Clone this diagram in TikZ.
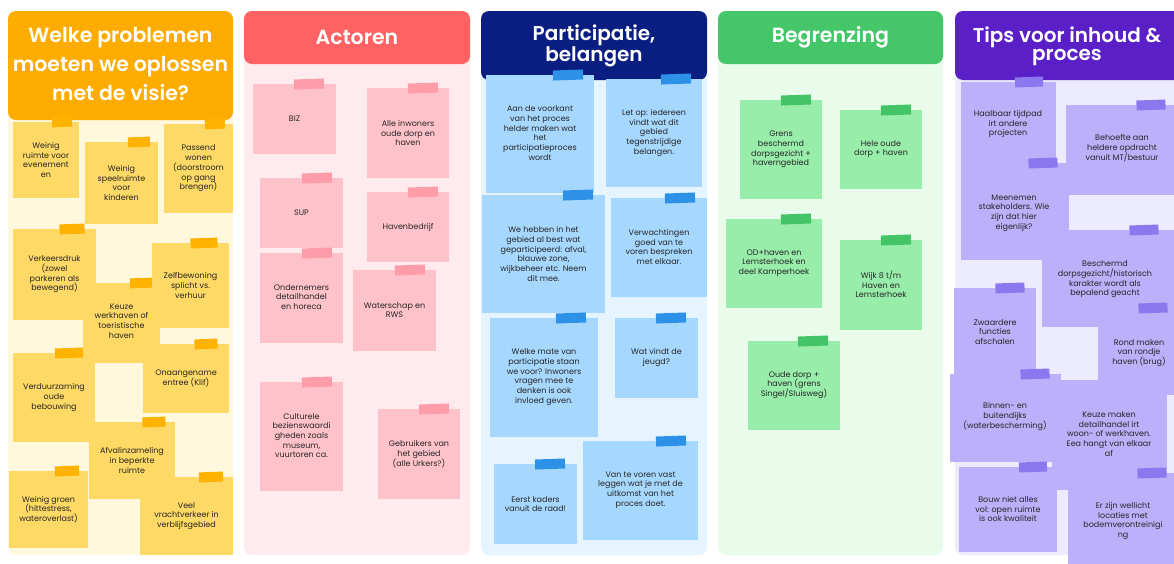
\documentclass[tikz,border=0pt]{standalone}
\usepackage{fontspec}
\setmainfont{Poppins}
\newfontfamily\headfont{Poppins SemiBold}
\usetikzlibrary{calc}
\definecolor{yelH}{HTML}{FFAC00}
\definecolor{yelB}{HTML}{FFF8DC}
\definecolor{yelN}{HTML}{FFD966}
\definecolor{yelT}{HTML}{FFB300}
\definecolor{redH}{HTML}{FF6262}
\definecolor{redB}{HTML}{FFEBEE}
\definecolor{redN}{HTML}{FFC2CB}
\definecolor{redT}{HTML}{FF9CAA}
\definecolor{bluH}{HTML}{0A1D80}
\definecolor{bluB}{HTML}{E6F4FF}
\definecolor{bluN}{HTML}{A6D8FF}
\definecolor{bluT}{HTML}{2E91E8}
\definecolor{grnH}{HTML}{45C669}
\definecolor{grnB}{HTML}{E9FCEB}
\definecolor{grnN}{HTML}{98EDAA}
\definecolor{grnT}{HTML}{43C466}
\definecolor{purH}{HTML}{5A1FC6}
\definecolor{purB}{HTML}{EDEBFF}
\definecolor{purN}{HTML}{BCB0FA}
\definecolor{purT}{HTML}{8C78EE}
\definecolor{notetext}{HTML}{262626}
\tikzset{
  panel/.style={rounded corners=8pt},
  notetxt/.style={align=center, font=\fontsize{8}{9.7}\selectfont, text=notetext, inner sep=0pt},
  headtxt/.style={align=center, text=white, font=\headfont\fontsize{20.5}{29}\selectfont, inner sep=0pt},
  headtight/.style={headtxt, font=\headfont\fontsize{20}{18}\selectfont},
}
% #1 x1, #2 y1, #3 x2, #4 y2, #5 tape centre x, #6 tape width
\newcommand{\stick}[6]{%
  \path[notefill] (#1,#2) rectangle (#3,#4);
  \path[tapefill, rotate around={2:(#5,#2)}] (#5-#6/2,#2-5) rectangle (#5+#6/2,#2+5);
}
\newcommand{\sticknt}[4]{%
  \path[notefill] (#1,#2) rectangle (#3,#4);
}
\begin{document}
\begin{tikzpicture}[x=1pt,y=-1pt]
\useasboundingbox (0,0) rectangle (1174,563);
\clip (0,0) rectangle (1174,563);
\fill[white] (0,0) rectangle (1174,563);

% ---------- panels ----------
\fill[yelB, panel] (8,11) rectangle (233,555);
\fill[yelH, panel] (8,11) rectangle (233,120);
\fill[redB, panel] (244,11) rectangle (470,555);
\fill[redH, panel] (244,11) rectangle (470,64);
\fill[bluB, panel] (481,11) rectangle (707,555);
\fill[bluH, panel] (481,11) rectangle (707,80);
\fill[grnB, panel] (718,11) rectangle (943,555);
\fill[grnH, panel] (718,11) rectangle (943,64);
\fill[purB, panel] (955,11) rectangle (1190,555);
\fill[purH, panel] (955,11) rectangle (1190,80);

\node[headtxt] (h1) at (120.5,64) {Welke problemen\\moeten we oplossen\\met de visie?};
\node[headtxt] (h2) at (357,37) {Actoren};
\node[headtight] (h3) at (594,46) {Participatie,\\belangen};
\node[headtxt] (h4) at (830.5,37) {Begrenzing};
\node[headtight] (h5) at (1067,46) {Tips voor inhoud \&\\proces};

% ---------- column 1 ----------
\begin{scope}[notefill/.style={fill=yelN}, tapefill/.style={fill=yelT}]
\stick{13}{122}{79}{198}{62}{20}
\stick{85}{142}{158}{224}{139}{22}
\stick{164}{124}{233}{213}{215}{20}
\stick{83}{283}{160}{363}{141}{22}
\stick{13}{229}{96}{320}{72}{25}
\stick{152}{243}{229}{328}{204}{27}
\stick{143}{344}{229}{413}{206}{23}
\stick{13}{353}{95}{442}{69}{28}
\stick{89}{422}{175}{499}{154}{23}
\stick{9}{471}{88}{548}{67}{24}
\stick{140}{477}{233}{555}{211}{24}
\end{scope}
\node[notetxt] (a1) at (46,160) {Weinig\\ruimte voor\\evenement\\en};
\node[notetxt] (a2) at (121.5,183) {Weinig\\speelruimte\\voor\\kinderen};
\node[notetxt] (a3) at (198.5,168.5) {Passend\\wonen\\(doorstroom\\op gang\\brengen)};
\node[notetxt] (a4) at (54.5,274.5) {Verkeersdruk\\(zowel\\parkeren als\\bewegend)};
\node[notetxt] (a5) at (190.5,285.5) {Zelfbewoning\\splicht vs.\\verhuur};
\node[notetxt] (a6) at (121.5,321) {Keuze\\werkhaven of\\toeristische\\haven};
\node[notetxt] (a7) at (186,378.5) {Onaangename\\entree (Klif)};
\node[notetxt] (a8) at (54,397.5) {Verduurzaming\\oude\\bebouwing};
\node[notetxt] (a9) at (132,460.5) {Afvalinzameling\\in beperkte\\ruimte};
\node[notetxt] (a10) at (48.5,509.5) {Weinig groen\\(hittestress,\\wateroverlast)};
\node[notetxt] (a11) at (186.5,516) {Veel\\vrachtverkeer in\\verblijfsgebied};

% ---------- column 2 ----------
\begin{scope}[notefill/.style={fill=redN}, tapefill/.style={fill=redT}]
\stick{253}{84}{336}{154}{309}{30}
\stick{367}{88}{449}{178}{423}{30}
\stick{260}{178}{343}{248}{317}{30}
\stick{367}{192}{449}{262}{423}{30}
\stick{260}{253}{343}{343}{317}{30}
\stick{353}{270}{436}{351}{410}{30}
\stick{260}{382}{343}{491}{317}{30}
\stick{378}{409}{460}{499}{434}{30}
\end{scope}
\node[notetxt] (b1) at (294.5,119) {BIZ};
\node[notetxt] (b2) at (408,133) {Alle inwoners\\oude dorp en\\haven};
\node[notetxt] (b3) at (301.5,213) {SUP};
\node[notetxt] (b4) at (408,227) {Havenbedrijf};
\node[notetxt] (b5) at (301.5,297) {Ondernemers\\detailhandel\\en horeca};
\node[notetxt] (b6) at (394.5,310) {Waterschap en\\RWS};
\node[notetxt] (b7) at (301.5,435.5) {Culturele\\bezienswaardi\\gheden zoals\\museum,\\vuurtoren ca.};
\node[notetxt] (b8) at (419,454) {Gebruikers van\\het gebied\\(alle Urkers?)};

% ---------- column 3 ----------
\begin{scope}[notefill/.style={fill=bluN}, tapefill/.style={fill=bluT}]
\stick{486}{75}{594}{193}{568}{30}
\stick{606}{79}{702}{187}{676}{30}
\stick{482}{195}{605}{313}{578}{30}
\stick{611}{198}{707}{297}{680}{30}
\stick{490}{318}{598}{437}{571}{30}
\stick{615}{318}{698}{398}{671}{30}
\stick{494}{464}{577}{544}{550}{30}
\stick{583}{441}{698}{540}{671}{30}
\end{scope}
\node[notetxt] (c1) at (540,133) {Aan de voorkant\\van het proces\\helder maken wat\\het\\participatieproces\\wordt};
\node[notetxt] (c2) at (654,133) {Let op: iedereen\\vindt wat dit\\gebied\\tegenstrijdige\\belangen.};
\node[notetxt] (c3) at (543.5,254) {We hebben in het\\gebied al best wat\\geparticipeerd: afval,\\blauwe zone,\\wijkbeheer etc. Neem\\dit mee.};
\node[notetxt] (c4) at (659,247) {Verwachtingen\\goed van te\\voren bespreken\\met elkaar.};
\node[notetxt] (c5) at (544,377) {Welke mate van\\participatie staan\\we voor? Inwoners\\vragen mee te\\denken is ook\\invloed geven.};
\node[notetxt] (c6) at (656.5,357.5) {Wat vindt de\\jeugd?};
\node[notetxt] (c7) at (535.5,504) {Eerst kaders\\vanuit de raad!};
\node[notetxt] (c8) at (640.5,490) {Van te voren vast\\leggen wat je met de\\uitkomst van het\\proces doet.};

% ---------- column 4 ----------
\begin{scope}[notefill/.style={fill=grnN}, tapefill/.style={fill=grnT}]
\stick{740}{100}{822}{199}{796}{30}
\stick{840}{110}{922}{189}{896}{30}
\stick{726}{219}{822}{308}{796}{30}
\stick{840}{240}{922}{330}{896}{30}
\stick{748}{341}{840}{430}{813}{30}
\end{scope}
\node[notetxt] (d1) at (781,149.5) {Grens\\beschermd\\dorpsgezicht +\\haverngebied};
\node[notetxt] (d2) at (881,149) {Hele oude\\dorp + haven};
\node[notetxt] (d3) at (774,263) {OD+haven en\\Lemsterhoek en\\deel Kamperhoek};
\node[notetxt] (d4) at (881,284.5) {Wijk 8 t/m\\Haven en\\Lemsterhoek};
\node[notetxt] (d5) at (794,385) {Oude dorp +\\haven (grens\\Singel/Sluisweg)};

% ---------- column 5 ----------
\begin{scope}[notefill/.style={fill=purN}, tapefill/.style={fill=purT}]
\stick{961}{82}{1056}{175}{1029}{28}
\stick{1066}{105}{1180}{195}{1151}{29}
\stick{961}{163}{1069}{260}{1043}{29}
\stick{1042}{230}{1180}{327}{1144}{29}
\stick{954}{288}{1036}{380}{1010}{29}
\sticknt{1052}{380}{1167}{490}
\stick{1098}{308}{1180}{395}{1153}{29}
\stick{950}{374}{1061}{462}{1035}{29}
\stick{959}{467}{1057}{552}{1033}{28}
\stick{1068}{473}{1180}{570}{1152}{29}
\end{scope}
\node[notetxt] (e1) at (1008,124) {Haalbaar tijdpad\\irt andere\\projecten};
\node[notetxt] (e2) at (1122,148) {Behoefte aan\\heldere opdracht\\vanuit MT/bestuur};
\node[notetxt] (e3) at (1014,213) {Meenemen\\stakeholders. Wie\\zijn dat hier\\eigenlijk?};
\node[notetxt] (e4) at (1105,279.5) {Beschermd\\dorpsgezicht/historisch\\karakter wordt als\\bepalend geacht};
\node[notetxt] (e5) at (995,332) {Zwaardere\\functies\\afschalen};
\node[notetxt] (e6) at (1139,353) {Rond maken\\van rondje\\haven (brug)};
\node[notetxt] (e7) at (1005,416.5) {Binnen- en\\buitendijks\\(waterbescherming)};
\node[notetxt] (e8) at (1109,434) {Keuze maken\\detailhandel irt\\woon- of werkhaven.\\Eea hangt van elkaar\\af};
\node[notetxt] (e9) at (1008,509) {Bouw niet alles\\vol: open ruimte\\is ook kwaliteit};
\node[notetxt] (e10) at (1123,521) {Er zijn wellicht\\locaties met\\bodemverontreinigi\\ng};
\end{tikzpicture}
\end{document}
